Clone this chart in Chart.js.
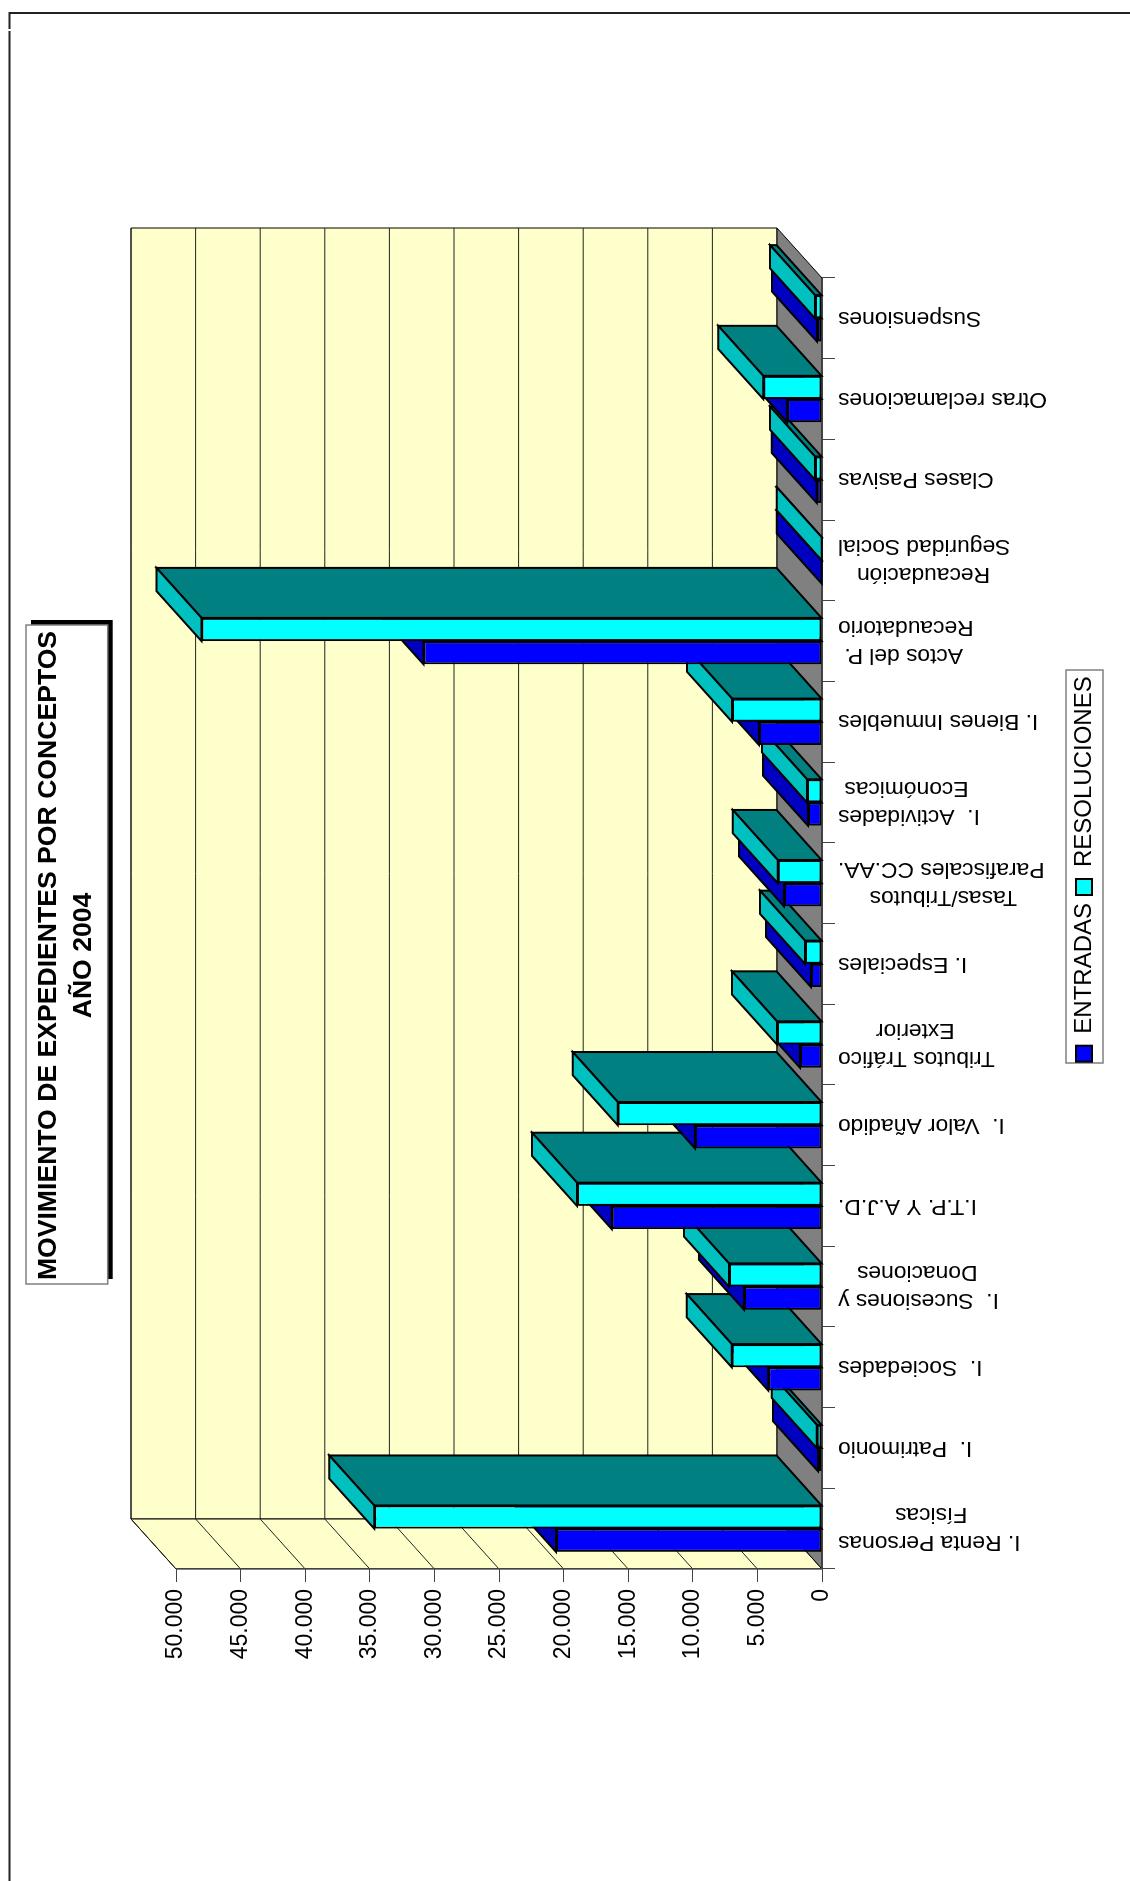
<!DOCTYPE html>
<html>
<head>
<meta charset="utf-8">
<title>Movimiento de expedientes por conceptos</title>
<script src="https://cdn.jsdelivr.net/npm/chart.js@4"></script>
<style>
html, body { margin: 0; padding: 0; background: #fff; width: 1130px; height: 1881px; overflow: hidden; }
/* the whole chart sits sideways on the page */
#chart { position: absolute; left: 0; top: 0; transform-origin: 0 0; transform: translate(0, 1881px) rotate(-90deg); }
</style>
</head>
<body>
<canvas id="chart" width="1881" height="1130"></canvas>
<script>
const categories = [
  ["I. Renta Personas", "Físicas"],
  "I.  Patrimonio",
  "I.  Sociedades",
  ["I.  Sucesiones y", "Donaciones"],
  "I.T.P. Y A.J.D.",
  "I.  Valor Añadido",
  ["Tributos Tráfico", "Exterior"],
  "I. Especiales",
  ["Tasas/Tributos", "Parafiscales CC.AA."],
  ["I.  Actividades", "Económicas"],
  "I. Bienes Inmuebles",
  ["Actos del P.", "Recaudatorio"],
  ["Recaudación", "Seguridad Social"],
  "Clases Pasivas",
  "Otras reclamaciones",
  "Suspensiones"
];
const entradas = [20590, 310, 4155, 6040, 16270, 9830, 1700, 850, 2940, 1080, 4880, 30840, 20, 410, 2690, 390];
const resoluciones = [34650, 410, 6990, 7200, 18960, 15800, 3480, 1315, 3430, 1160, 6970, 48030, 20, 540, 4540, 540];
const valueTickLabels = ["0", "5.000", "10.000", "15.000", "20.000", "25.000", "30.000", "35.000", "40.000", "45.000", "50.000"];
const titleLines = ["MOVIMIENTO DE EXPEDIENTES POR CONCEPTOS", "AÑO 2004"];

const FONT = '"Liberation Sans", Arial, sans-serif';
const LABEL_SIZE = 22.8, LABEL_LINE = 28;
const DEPTH_X = 50, DEPTH_Y = -45;

// chart.js right aligns rotated lines, pad the short ones so they look centred
function centerLines(lines) {
  if (!Array.isArray(lines)) return lines;
  const m = document.createElement("canvas").getContext("2d");
  m.font = LABEL_SIZE + "px " + FONT;
  const widest = Math.max(...lines.map(l => m.measureText(l).width));
  const sp = m.measureText("\u00A0").width;
  return lines.map(l => l + "\u00A0".repeat(Math.round((widest - m.measureText(l).width) / 2 / sp)));
}

function poly(ctx, pts, fill, stroke, lw) {
  ctx.beginPath();
  pts.forEach((p, i) => i ? ctx.lineTo(p[0], p[1]) : ctx.moveTo(p[0], p[1]));
  ctx.closePath();
  if (fill) { ctx.fillStyle = fill; ctx.fill(); }
  if (stroke) { ctx.strokeStyle = stroke; ctx.lineWidth = lw; ctx.stroke(); }
}

const scenery = {
  id: "scenery",
  afterLayout(chart) {
    const t = chart.titleBlock;
    t.left = 925.5 - 500; t.right = 925.5 + 500;
    const l = chart.legend, h = l.height;
    l.left = 1012 - 300; l.right = 1012 + 300;
    l.top = 1064; l.bottom = l.top + h;
  },
  beforeDraw(chart) {
    const ctx = chart.ctx, a = chart.chartArea, ys = chart.scales.y;
    // two line labels sit with their first line on the tick, move them to the middle
    chart.scales.x.getLabelItems().forEach(item => {
      if (Array.isArray(item.label) && !item.moved) {
        item.options.translation[0] -= LABEL_LINE / 2;
        item.moved = true;
      }
    });
    ctx.save();
    ctx.lineJoin = "miter";
    // page frame
    ctx.strokeStyle = "#222"; ctx.lineWidth = 2;
    ctx.beginPath();
    ctx.moveTo(0, 9.5); ctx.lineTo(1850, 9.5);
    ctx.moveTo(1852, 9.5); ctx.lineTo(1868, 9.5); ctx.lineTo(1868, 1130);
    ctx.stroke();
    // title box with its shadow
    ctx.fillStyle = "#000"; ctx.fillRect(602, 31, 659, 81.7);
    ctx.fillStyle = "#fff"; ctx.fillRect(597, 26, 659, 81.7);
    ctx.strokeStyle = "#808080"; ctx.lineWidth = 1.5; ctx.strokeRect(597, 26, 659, 81.7);
    // legend box
    ctx.strokeStyle = "#808080"; ctx.lineWidth = 1.5; ctx.strokeRect(818, 1066, 393, 37);
    // walls and floor
    const L = a.left, R = a.right, T = a.top, B = a.bottom;
    poly(ctx, [[L + DEPTH_X, T + DEPTH_Y], [R + DEPTH_X, T + DEPTH_Y], [R + DEPTH_X, B + DEPTH_Y], [L + DEPTH_X, B + DEPTH_Y]], "#FFFFCC", "#000", 1);
    poly(ctx, [[L, T], [L + DEPTH_X, T + DEPTH_Y], [L + DEPTH_X, B + DEPTH_Y], [L, B]], "#FFFFCC", "#000", 1);
    poly(ctx, [[L, B], [L + DEPTH_X, B + DEPTH_Y], [R + DEPTH_X, B + DEPTH_Y], [R, B]], "#808080", "#000", 1);
    ctx.strokeStyle = "#222"; ctx.lineWidth = 1;
    ys.ticks.forEach(t => {
      if (t.value === 0) return;
      const y = ys.getPixelForValue(t.value);
      ctx.beginPath();
      ctx.moveTo(L, y); ctx.lineTo(L + DEPTH_X, y + DEPTH_Y); ctx.lineTo(R + DEPTH_X, y + DEPTH_Y);
      ctx.stroke();
    });
    ctx.restore();
  },
  // bars have to be painted category by category so they cover each other properly
  beforeDatasetsDraw(chart) {
    const ctx = chart.ctx;
    ctx.save();
    ctx.lineJoin = "miter";
    categories.forEach((c, i) => {
      chart.data.datasets.forEach((ds, d) => {
        const bar = chart.getDatasetMeta(d).data[i];
        const x1 = bar.x - bar.width / 2, x2 = bar.x + bar.width / 2, top = bar.y, base = bar.base;
        poly(ctx, [[x2, top], [x2 + DEPTH_X, top + DEPTH_Y], [x2 + DEPTH_X, base + DEPTH_Y], [x2, base]], ds.sideColor, "#000", 2);
        poly(ctx, [[x1, top], [x1 + DEPTH_X, top + DEPTH_Y], [x2 + DEPTH_X, top + DEPTH_Y], [x2, top]], ds.topColor, "#000", 2);
        bar.draw(ctx);
      });
    });
    ctx.restore();
    return false;
  }
};

new Chart(document.getElementById("chart"), {
  type: "bar",
  plugins: [scenery],
  data: {
    labels: categories,
    datasets: [{
      label: "ENTRADAS",
      data: entradas,
      backgroundColor: "#0000FF",
      topColor: "#0000C0",
      sideColor: "#000080",
      borderColor: "#000",
      borderWidth: 2,
      borderSkipped: false
    }, {
      label: "RESOLUCIONES",
      data: resoluciones,
      backgroundColor: "#00FFFF",
      topColor: "#00C0C0",
      sideColor: "#008080",
      borderColor: "#000",
      borderWidth: 2,
      borderSkipped: false
    }]
  },
  options: {
    responsive: false,
    animation: false,
    layout: { padding: { right: 278 } },
    datasets: { bar: { categoryPercentage: 0.575, barPercentage: 1 } },
    plugins: {
      tooltip: { enabled: false },
      title: {
        display: true,
        text: titleLines,
        color: "#000",
        font: { family: FONT, size: 26.6, weight: "bold", lineHeight: 35 / 26.6 },
        padding: { top: 31.5, bottom: 74.5 }
      },
      legend: {
        position: "bottom",
        labels: {
          color: "#000",
          font: { family: FONT, size: 24 },
          boxWidth: 16,
          boxHeight: 16,
          padding: 8
        }
      }
    },
    scales: {
      x: {
        afterFit: s => { s.height = 1130 - 822 - s.chart.legend.height; },
        grid: { drawOnChartArea: false, tickLength: 13, color: "#444" },
        border: { color: "#444" },
        ticks: {
          autoSkip: false,
          minRotation: 90,
          maxRotation: 90,
          padding: 3,
          color: "#000",
          font: { family: FONT, size: LABEL_SIZE, lineHeight: LABEL_LINE / LABEL_SIZE },
          callback: (v, i) => centerLines(categories[i])
        }
      },
      y: {
        min: 0,
        max: 50000,
        afterFit: s => { s.width = 312; },
        grid: { drawOnChartArea: false, tickLength: 13, color: "#444" },
        border: { color: "#444" },
        ticks: {
          stepSize: 5000,
          padding: 7,
          color: "#000",
          font: { family: FONT, size: 23 },
          callback: (v, i) => valueTickLabels[i]
        }
      }
    }
  }
});
</script>
</body>
</html>
